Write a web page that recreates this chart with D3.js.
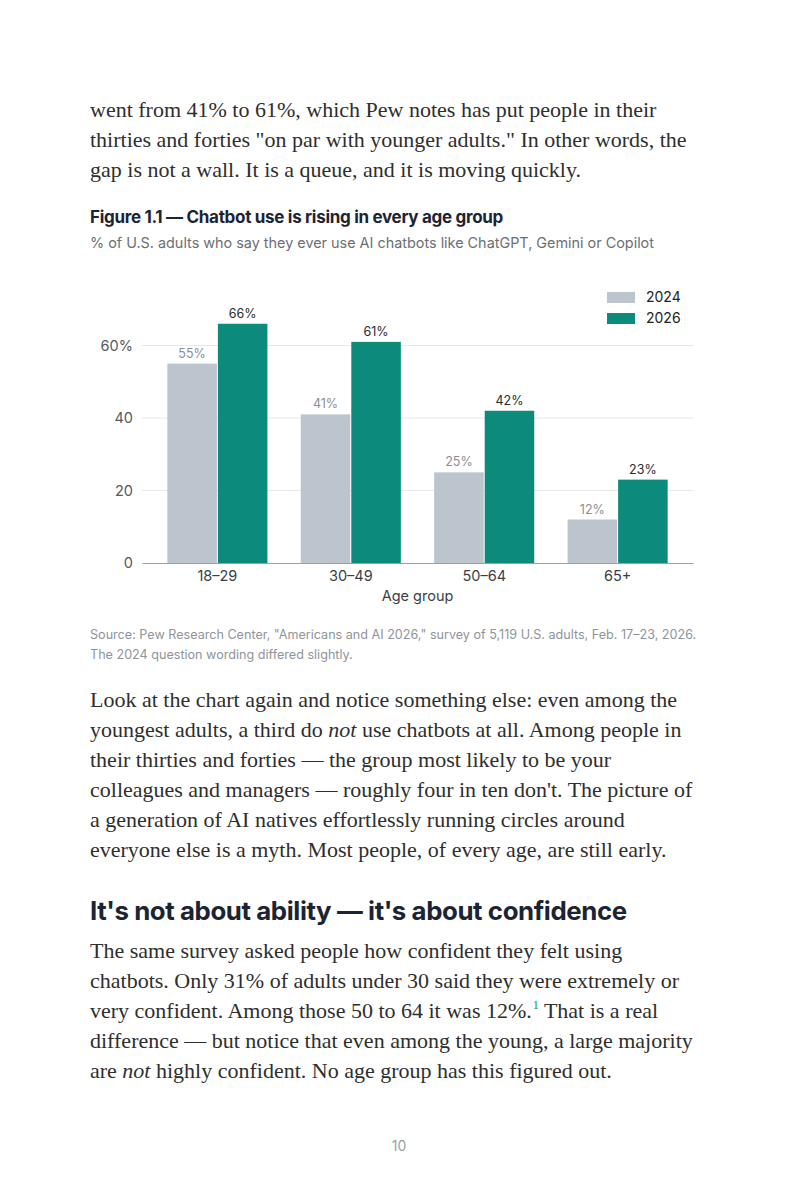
<!DOCTYPE html>
<html>
<head>
<meta charset="utf-8">
<script src="https://cdn.jsdelivr.net/npm/d3@7"></script>
<style>
  html, body { margin: 0; padding: 0; background: #fff; }
  svg { display: block; }
  .serif { font-family: "Liberation Serif", "DejaVu Serif", serif; }
  .sans { font-family: Inter, "Noto Sans", sans-serif; }
</style>
</head>
<body>
<svg id="page" width="800" height="1200"></svg>
<script>
// данные графика
const ageGroups = ['18–29', '30–49', '50–64', '65+'];
const years = ['2024', '2026'];
const values2024 = [55, 41, 25, 12];
const values2026 = [66, 61, 42, 23];
const yTicks = [0, 20, 40, 60];

// цвета
const COLORS = { '2024': '#bcc5cd', '2026': '#0c8a7a' };
const LABEL_COLORS = { '2024': '#8a8f96', '2026': '#2b2b2b' };

const svg = d3.select('#page');

// текст страницы
const para1 = [
    'went from 41% to 61%, which Pew notes has put people in their',
    'thirties and forties "on par with younger adults." In other words, the',
    'gap is not a wall. It is a queue, and it is moving quickly.'
];
const para2 = [
    [['Look at the chart again and notice something else: even among the']],
    [['youngest adults, a third do '], ['not', 'italic'], [' use chatbots at all. Among people in']],
    [['their thirties and forties — the group most likely to be your']],
    [['colleagues and managers — roughly four in ten don\'t. The picture of']],
    [['a generation of AI natives effortlessly running circles around']],
    [['everyone else is a myth. Most people, of every age, are still early.']]
];
const para3 = [
    [['The same survey asked people how confident they felt using']],
    [['chatbots. Only 31% of adults under 30 said they were extremely or']],
    [['very confident. Among those 50 to 64 it was 12%.'], ['1', 'sup'], [' That is a real']],
    [['difference — but notice that even among the young, a large majority']],
    [['are '], ['not', 'italic'], [' highly confident. No age group has this figured out.']]
];

function drawParagraph(lines, y0) {
    lines.forEach((line, i) => {
        const t = svg.append('text')
            .attr('class', 'serif')
            .attr('x', 90)
            .attr('y', y0 + i * 30)
            .attr('font-size', 22)
            .attr('fill', '#2e2e2e');
        const parts = typeof line === 'string' ? [[line]] : line;
        let afterSup = false;
        parts.forEach(p => {
            const s = t.append('tspan').text(p[0]);
            if (afterSup) { s.attr('dy', 9); afterSup = false; }
            if (p[1] === 'italic') s.attr('font-style', 'italic');
            if (p[1] === 'sup') {
                s.attr('font-size', 12).attr('fill', '#0c8a7a').attr('dy', -9).attr('dx', 1);
                afterSup = true;
            }
        });
    });
}

drawParagraph(para1, 117);

// заголовок и подзаголовок рисунка
svg.append('text')
    .attr('class', 'sans')
    .attr('x', 90).attr('y', 223)
    .attr('font-size', 17).attr('font-weight', 700)
    .attr('letter-spacing', -0.3)
    .attr('fill', '#1c2433')
    .text('Figure 1.1 — Chatbot use is rising in every age group');

svg.append('text')
    .attr('class', 'sans')
    .attr('x', 90).attr('y', 248)
    .attr('font-size', 14.4)
    .attr('fill', '#6b6f76')
    .text('% of U.S. adults who say they ever use AI chatbots like ChatGPT, Gemini or Copilot');

// график
const plot = { left: 142, right: 693, top: 309.25, bottom: 563 };

const x0 = d3.scaleBand()
    .domain(ageGroups)
    .range([plot.left, plot.right])
    .paddingInner(0.25)
    .paddingOuter(0.19);

const x1 = d3.scaleBand()
    .domain(years)
    .range([0, x0.bandwidth()])
    .paddingInner(0.02);

const y = d3.scaleLinear()
    .domain([0, 70])
    .range([plot.bottom, plot.top]);

const chart = svg.append('g').attr('class', 'chart');

// сетка
chart.append('g')
    .selectAll('line')
    .data(yTicks.filter(d => d > 0))
    .join('line')
    .attr('x1', plot.left).attr('x2', plot.right)
    .attr('y1', d => y(d)).attr('y2', d => y(d))
    .attr('stroke', '#e6e8eb')
    .attr('stroke-width', 1);

// ось Y
const yAxis = chart.append('g')
    .attr('transform', `translate(${plot.left - 6},0)`)
    .call(d3.axisLeft(y).tickValues(yTicks).tickSize(0)
        .tickFormat(d => d === 60 ? d + '%' : d));
yAxis.select('.domain').remove();
yAxis.selectAll('text')
    .attr('class', 'sans')
    .attr('font-size', 14.5)
    .attr('fill', '#555a60');

// столбцы
const rows = ageGroups.map((g, i) => ({ group: g, '2024': values2024[i], '2026': values2026[i] }));

const groups = chart.append('g')
    .selectAll('g')
    .data(rows)
    .join('g')
    .attr('transform', d => `translate(${x0(d.group)},0)`);

groups.selectAll('rect')
    .data(d => years.map(k => ({ key: k, value: d[k] })))
    .join('rect')
    .attr('x', d => x1(d.key))
    .attr('y', d => y(d.value))
    .attr('width', x1.bandwidth())
    .attr('height', d => y(0) - y(d.value))
    .attr('fill', d => COLORS[d.key]);

groups.selectAll('text')
    .data(d => years.map(k => ({ key: k, value: d[k] })))
    .join('text')
    .attr('class', 'sans')
    .attr('x', d => x1(d.key) + x1.bandwidth() / 2)
    .attr('y', d => y(d.value) - 6)
    .attr('text-anchor', 'middle')
    .attr('font-size', 12.5)
    .attr('fill', d => LABEL_COLORS[d.key])
    .text(d => d.value + '%');

// ось X
const xAxis = chart.append('g')
    .attr('transform', `translate(0,${plot.bottom})`)
    .call(d3.axisBottom(x0).tickSize(0).tickPadding(8));
xAxis.select('.domain').attr('stroke', '#9aa0a6').attr('stroke-width', 1.2);
xAxis.selectAll('text')
    .attr('class', 'sans')
    .attr('font-size', 14.5)
    .attr('fill', '#3a3f45');

chart.append('text')
    .attr('class', 'sans')
    .attr('x', (plot.left + plot.right) / 2)
    .attr('y', 601)
    .attr('text-anchor', 'middle')
    .attr('font-size', 14.5)
    .attr('fill', '#3a3f45')
    .text('Age group');

// легенда
const legend = chart.append('g')
    .attr('transform', 'translate(607,292)');
legend.selectAll('rect')
    .data(years)
    .join('rect')
    .attr('x', 0)
    .attr('y', (d, i) => i * 21)
    .attr('width', 28).attr('height', 11)
    .attr('fill', d => COLORS[d]);
legend.selectAll('text')
    .data(years)
    .join('text')
    .attr('class', 'sans')
    .attr('x', 39)
    .attr('y', (d, i) => i * 21 + 10)
    .attr('font-size', 14)
    .attr('fill', '#222')
    .text(d => d);

// источник
const sourceLines = [
    'Source: Pew Research Center, "Americans and AI 2026," survey of 5,119 U.S. adults, Feb. 17–23, 2026.',
    'The 2024 question wording differed slightly.'
];
svg.append('g').selectAll('text')
    .data(sourceLines)
    .join('text')
    .attr('class', 'sans')
    .attr('x', 90)
    .attr('y', (d, i) => 639 + i * 20)
    .attr('font-size', 12.6)
    .attr('fill', '#8f949a')
    .text(d => d);

drawParagraph(para2, 707);

// подзаголовок раздела
svg.append('text')
    .attr('class', 'sans')
    .attr('x', 90).attr('y', 920)
    .attr('font-size', 25.8).attr('font-weight', 700)
    .attr('letter-spacing', -0.4)
    .attr('fill', '#1c2433')
    .text('It\'s not about ability — it\'s about confidence');

drawParagraph(para3, 958);

// номер страницы
svg.append('text')
    .attr('class', 'sans')
    .attr('x', 399).attr('y', 1151)
    .attr('text-anchor', 'middle')
    .attr('font-size', 14)
    .attr('fill', '#9aa0a6')
    .text('10');
</script>
</body>
</html>
